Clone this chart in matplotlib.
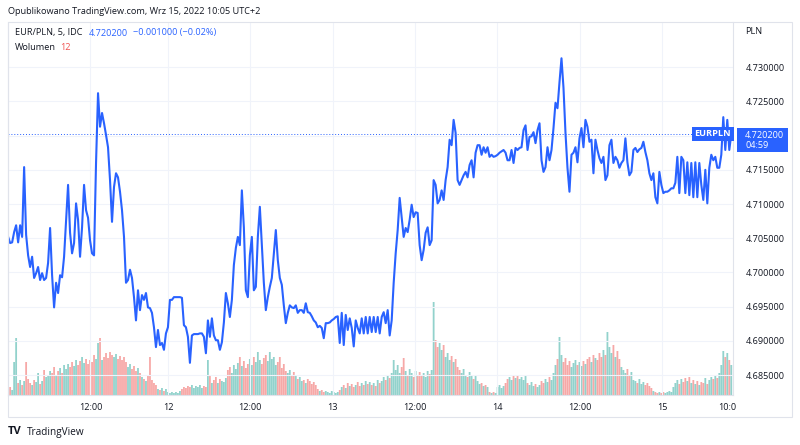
import numpy as np
import matplotlib.pyplot as plt
from matplotlib.patches import Rectangle

plt.rcParams['font.family'] = ['Open Sans', 'DejaVu Sans']

# EUR/PLN 5 min, probkowane co ~17,5 min (odczyt z wykresu)
price = [
    4.7052, 4.7043, 4.7044, 4.7059, 4.7069, 4.7044, 4.7069, 4.7052, 4.7154, 4.7055,
    4.7025, 4.7008, 4.7023, 4.6992, 4.6999, 4.7008, 4.6989, 4.6999, 4.6989, 4.6992,
    4.7014, 4.7065, 4.6996, 4.6949, 4.6985, 4.6970, 4.6996, 4.6993, 4.7023, 4.7077,
    4.7128, 4.7058, 4.7028, 4.7043, 4.7101, 4.7077, 4.7023, 4.7066, 4.7128, 4.7091,
    4.7080, 4.7047, 4.7028, 4.7025, 4.7160, 4.7262, 4.7213, 4.7233, 4.7218, 4.7201,
    4.7183, 4.7135, 4.7074, 4.7125, 4.7145, 4.7139, 4.7118, 4.7091, 4.7052, 4.6985,
    4.6989, 4.7004, 4.6992, 4.6964, 4.6930, 4.6974, 4.6945, 4.6967, 4.6960, 4.6970,
    4.6949, 4.6948, 4.6941, 4.6920, 4.6891, 4.6916, 4.6894, 4.6897, 4.6887, 4.6911,
    4.6920, 4.6960, 4.6960, 4.6964, 4.6964, 4.6964, 4.6964, 4.6963, 4.6923, 4.6920,
    4.6906, 4.6868, 4.6908, 4.6910, 4.6910, 4.6910, 4.6911, 4.6911, 4.6906, 4.6882,
    4.6930, 4.6906, 4.6933, 4.6908, 4.6901, 4.6901, 4.6887, 4.6898, 4.6927, 4.6970,
    4.6955, 4.6935, 4.6960, 4.7011, 4.7036, 4.7052, 4.7040, 4.7120, 4.7066, 4.6974,
    4.6964, 4.7025, 4.7052, 4.6974, 4.6979, 4.7052, 4.7096, 4.7040, 4.6985, 4.6945,
    4.6964, 4.6979, 4.6992, 4.7028, 4.7062, 4.7018, 4.6992, 4.6982, 4.6952, 4.6926,
    4.6941, 4.6952, 4.6949, 4.6948, 4.6952, 4.6941, 4.6945, 4.6945, 4.6941, 4.6955,
    4.6942, 4.6941, 4.6936, 4.6930, 4.6927, 4.6920, 4.6922, 4.6919, 4.6904, 4.6926,
    4.6926, 4.6927, 4.6930, 4.6932, 4.6935, 4.6936, 4.6897, 4.6941, 4.6894, 4.6938,
    4.6916, 4.6933, 4.6919, 4.6892, 4.6930, 4.6919, 4.6911, 4.6933, 4.6911, 4.6935,
    4.6911, 4.6935, 4.6913, 4.6935, 4.6913, 4.6935, 4.6911, 4.6935, 4.6942, 4.6926,
    4.6945, 4.6908, 4.6930, 4.6985, 4.7028, 4.7062, 4.7109, 4.7081, 4.7052, 4.7065,
    4.7059, 4.7077, 4.7099, 4.7081, 4.7088, 4.7087, 4.7040, 4.7018, 4.7033, 4.7058,
    4.7066, 4.7040, 4.7047, 4.7135, 4.7128, 4.7101, 4.7106, 4.7120, 4.7106, 4.7135,
    4.7154, 4.7194, 4.7186, 4.7223, 4.7204, 4.7135, 4.7128, 4.7135, 4.7142, 4.7147,
    4.7139, 4.7157, 4.7164, 4.7139, 4.7175, 4.7186, 4.7186, 4.7172, 4.7183, 4.7175,
    4.7183, 4.7169, 4.7172, 4.7169, 4.7170, 4.7172, 4.7175, 4.7177, 4.7179, 4.7175,
    4.7164, 4.7164, 4.7179, 4.7160, 4.7182, 4.7179, 4.7182, 4.7183, 4.7208, 4.7215,
    4.7179, 4.7198, 4.7199, 4.7205, 4.7189, 4.7208, 4.7218, 4.7164, 4.7147, 4.7154,
    4.7183, 4.7164, 4.7179, 4.7211, 4.7248, 4.7240, 4.7278, 4.7313, 4.7270, 4.7204,
    4.7153, 4.7118, 4.7172, 4.7175, 4.7183, 4.7161, 4.7196, 4.7211, 4.7183, 4.7223,
    4.7213, 4.7191, 4.7194, 4.7145, 4.7194, 4.7179, 4.7167, 4.7160, 4.7169, 4.7135,
    4.7142, 4.7186, 4.7194, 4.7160, 4.7169, 4.7164, 4.7153, 4.7160, 4.7164, 4.7196,
    4.7161, 4.7142, 4.7147, 4.7179, 4.7182, 4.7176, 4.7180, 4.7182, 4.7191, 4.7176,
    4.7164, 4.7145, 4.7135, 4.7145, 4.7110, 4.7101, 4.7147, 4.7128, 4.7116, 4.7118,
    4.7118, 4.7120, 4.7123, 4.7123, 4.7131, 4.7169, 4.7116, 4.7169, 4.7164, 4.7116,
    4.7161, 4.7113, 4.7160, 4.7110, 4.7161, 4.7110, 4.7160, 4.7128, 4.7106, 4.7150,
    4.7101, 4.7153, 4.7172, 4.7164, 4.7169, 4.7153, 4.7153, 4.7172, 4.7227, 4.7179,
    4.7223, 4.7179, 4.7202,
]

volume = [
    6, 8, 5, 33, 57, 12, 15, 10, 14, 33,
    16, 12, 10, 15, 13, 22, 11, 14, 25, 18,
    20, 24, 22, 28, 19, 24, 27, 22, 30, 26,
    31, 28, 33, 29, 35, 30, 34, 38, 32, 36,
    31, 35, 33, 40, 36, 52, 57, 35, 38, 42,
    37, 43, 40, 38, 41, 36, 39, 35, 38, 33,
    28, 31, 26, 29, 24, 27, 22, 18, 16, 14,
    20, 38, 15, 12, 10, 6, 5, 7, 4, 6,
    3, 2, 3, 2, 3, 2, 4, 6, 8, 7,
    9, 8, 10, 7, 9, 8, 10, 7, 9, 8,
    35, 20, 12, 15, 18, 12, 16, 14, 13, 17,
    25, 28, 22, 30, 26, 32, 38, 29, 34, 27,
    31, 36, 30, 38, 33, 43, 35, 31, 37, 40,
    34, 43, 36, 38, 30, 33, 38, 27, 31, 24,
    22, 25, 20, 23, 19, 16, 18, 14, 15, 12,
    16, 14, 11, 13, 10, 6, 4, 5, 3, 4,
    3, 2, 4, 3, 2, 3, 5, 8, 10, 7,
    12, 9, 11, 8, 10, 13, 9, 12, 10, 14,
    11, 13, 10, 12, 9, 15, 12, 14, 18, 15,
    20, 17, 22, 35, 25, 30, 22, 28, 37, 24,
    20, 26, 22, 18, 24, 20, 23, 19, 22, 18,
    24, 21, 25, 93, 55, 48, 52, 45, 50, 38,
    42, 35, 39, 33, 36, 28, 25, 22, 26, 20,
    18, 23, 19, 16, 20, 14, 11, 12, 9, 10,
    8, 3, 2, 3, 2, 8, 10, 7, 9, 12,
    16, 18, 15, 19, 17, 20, 16, 18, 15, 19,
    12, 10, 13, 9, 11, 8, 10, 14, 12, 16,
    13, 18, 15, 22, 30, 36, 58, 40, 33, 37,
    30, 34, 28, 32, 35, 30, 33, 29, 34, 31,
    36, 38, 33, 40, 37, 35, 42, 38, 45, 40,
    63, 48, 42, 50, 38, 44, 36, 28, 25, 22,
    26, 20, 23, 15, 14, 12, 16, 11, 13, 10,
    12, 9, 7, 4, 3, 2, 3, 2, 3, 2,
    3, 4, 3, 8, 12, 15, 11, 16, 13, 17,
    14, 18, 12, 15, 11, 14, 10, 13, 12, 17,
    11, 15, 18, 16, 20, 17, 22, 30, 44, 38,
    42, 35, 30,
]

# czas w godzinach handlu liczony od 12.09 00:00
t_first, t_last = -23.3, 82.1
time_ticks = [-11.3, 0, 12, 24, 36, 48, 60, 72, 81.5]
time_labels = ['12:00', '12', '12:00', '13', '12:00', '14', '12:00', '15', '10:0']
price_ticks = [4.685, 4.690, 4.695, 4.700, 4.705, 4.710, 4.715, 4.720, 4.725, 4.730]
last_price = 4.7202

W, H = 800, 445
def fx(px):
    return px / W
def fy(py):
    return 1 - py / H

blue = '#2962ff'
txt = '#131722'
border = '#e0e3eb'
grid = '#f0f3fa'
fs = 6.6

t = np.linspace(t_first, t_last, len(price))
rect = [fx(8), fy(395), fx(733) - fx(8), fy(22) - fy(395)]

fig = plt.figure(figsize=(8, 4.45), dpi=100)

# wolumen pod spodem
vax = fig.add_axes(rect)
cols = ['#26a69a' if i == 0 or price[i] >= price[i - 1] else '#ef5350' for i in range(len(price))]
bars = vax.bar(t, volume, width=(t[1] - t[0]) * 0.9, color=cols, alpha=0.5, linewidth=0)
for b in bars:
    b.set_snap(False)
vax.set_ylim(0, 373)
vax.set_xlim(-23.32, 82.35)
vax.axis('off')

ax = fig.add_axes(rect)
ax.patch.set_visible(False)
ax.plot(t, price, color=blue, lw=1.5, solid_joinstyle='round')
ax.axhline(last_price, color=blue, lw=0.7, ls=(0, (1, 2)))
ax.set_xlim(-23.32, 82.35)
ax.set_ylim(4.6821, 4.7366)

# 4.720000 zasloniety przez etykiete ostatniej ceny
ax.set_yticks(price_ticks)
ax.set_yticklabels(['' if p == 4.720 else '%.6f' % p for p in price_ticks])
ax.yaxis.tick_right()
ax.set_xticks(time_ticks)
ax.set_xticklabels(time_labels)
ax.tick_params(axis='y', length=0, pad=9, labelsize=fs, labelcolor=txt)
ax.tick_params(axis='x', length=0, pad=6, labelsize=fs, labelcolor=txt)
ax.grid(axis='y', color=grid, lw=0.8)
for x in time_ticks[:-1]:
    ax.axvline(x, color=grid, lw=0.8, zorder=0)
for s in ['left', 'right', 'bottom']:
    ax.spines[s].set_color(border)
    ax.spines[s].set_linewidth(0.8)
ax.spines['top'].set_visible(False)

# ramka calego panelu
fig.patches.append(Rectangle((fx(8), fy(417)), fx(792) - fx(8), fy(22) - fy(417),
                             transform=fig.transFigure, fill=False, ec=border, lw=0.8))

# etykiety ostatniej ceny
fig.text(fx(731), fy(134), 'EURPLN', ha='right', va='center', color='white', size=fs,
         fontweight='bold', bbox=dict(boxstyle='square,pad=0.3', fc=blue, ec='none'))
fig.patches.append(Rectangle((fx(737), fy(152)), fx(788) - fx(737), fy(128) - fy(152),
                             transform=fig.transFigure, fc=blue, ec='none'))
fig.text(fx(745), fy(135), '4.720200', va='center', color='white', size=fs)
fig.text(fx(745), fy(146), '04:59', va='center', color='white', size=fs)
fig.text(fx(745), fy(32), 'PLN', va='center', color=txt, size=fs)

# naglowki
fig.text(fx(8), fy(12), 'Opublikowano TradingView.com, Wrz 15, 2022 10:05 UTC+2',
         va='center', color=txt, size=fs)
fig.text(fx(15), fy(33), 'EUR/PLN, 5, IDC', va='center', color=txt, size=fs)
fig.text(fx(89), fy(33), '4.720200', va='center', color=blue, size=fs)
fig.text(fx(133), fy(33), '\u22120.001000 (\u22120.02%)', va='center', color=blue, size=fs)
fig.text(fx(15), fy(47), 'Wolumen', va='center', color=txt, size=fs)
fig.text(fx(60), fy(47), '12', va='center', color='#ef5350', size=fs)

fig.text(fx(8), fy(432), 'TV', va='center', color=txt, size=8, fontweight='bold')
fig.text(fx(27), fy(432), 'TradingView', va='center', color=txt, size=7.2)

plt.savefig('out.png', dpi=100)
